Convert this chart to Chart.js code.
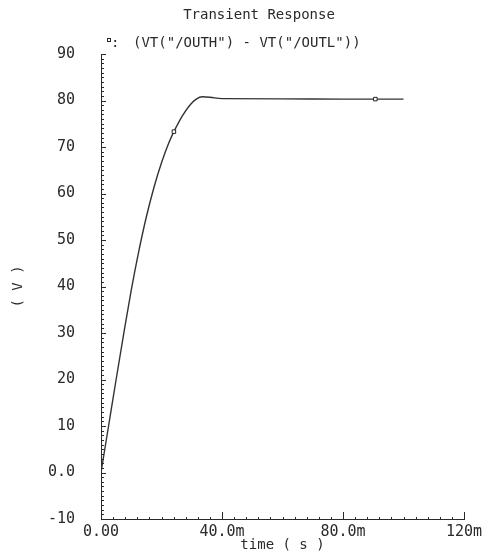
<!DOCTYPE html>
<html>
<head>
<meta charset="utf-8">
<title>Transient Response</title>
<script src="https://cdn.jsdelivr.net/npm/chart.js@4.4.1/dist/chart.umd.min.js"></script>
<style>
  html, body { margin: 0; padding: 0; background: #fff; }
  #wrap { width: 490px; height: 554px; }
</style>
</head>
<body>
<div id="wrap"><canvas id="chart" width="490" height="554"></canvas></div>
<script>
// time in ms, voltage in V
const timeMs = [0, 2.5, 5, 7.5, 10, 12.5, 15, 17.5, 20, 22.5, 24.1, 27, 29.5, 31.5, 33.5, 36, 40, 60, 80, 90.7, 100];
const vDiff  = [0, 10, 20, 29.8, 39.2, 47.6, 55, 61.3, 66.6, 71, 73.3, 76.8, 79.1, 80.3, 80.8, 80.7, 80.4, 80.35, 80.3, 80.3, 80.3];
const markerTimes = [24.1, 90.7];

const xTickLabels = ['0.00', '40.0m', '80.0m', '120m'];
const yTickLabels = ['-10', '0.0', '10', '20', '30', '40', '50', '60', '70', '80', '90'];

const seriesName = '(VT("/OUTH") - VT("/OUTL"))';
const titleText = 'Transient Response';

const ink = '#2a2a2a';
const monoFont = '"DejaVu Sans Mono", "Liberation Mono", monospace';

// inward tick marks, like the simulator's plot frame
const innerTicks = {
    id: 'innerTicks',
    afterDraw(chart) {
        const {ctx, scales: {x, y}} = chart;
        ctx.save();
        ctx.strokeStyle = ink;
        ctx.lineWidth = 1;
        ctx.beginPath();
        for (let v = -10; v <= 90; v += 1) {
            const py = Math.round(y.getPixelForValue(v)) + 0.5;
            const len = (v % 10 === 0) ? 5 : 3;
            ctx.moveTo(x.left, py);
            ctx.lineTo(x.left + len, py);
        }
        for (let t = 0; t <= 120; t += 4) {
            const px = Math.round(x.getPixelForValue(t)) + 0.5;
            const len = (t % 40 === 0) ? 7 : 2;
            ctx.moveTo(px, y.bottom);
            ctx.lineTo(px, y.bottom - len);
        }
        ctx.stroke();
        ctx.restore();
    }
};

// title and the series label above the plot
const header = {
    id: 'header',
    afterDraw(chart) {
        const {ctx, chartArea} = chart;
        ctx.save();
        ctx.fillStyle = ink;
        ctx.font = '14px ' + monoFont;
        ctx.textBaseline = 'middle';
        ctx.textAlign = 'center';
        ctx.fillText(titleText, 259, 15);

        ctx.textAlign = 'left';
        ctx.strokeStyle = ink;
        ctx.lineWidth = 1;
        ctx.strokeRect(chartArea.left + 6.5, 38.5, 3, 3);
        ctx.fillText(':', chartArea.left + 10, 43);
        ctx.fillText(seriesName, chartArea.left + 32, 43);
        ctx.restore();
    }
};

document.addEventListener('DOMContentLoaded', function () {
    const ctx = document.getElementById('chart').getContext('2d');

    const points = timeMs.map((t, i) => ({x: t, y: vDiff[i]}));
    const radii = timeMs.map(t => markerTimes.includes(t) ? 2.5 : 0);

    new Chart(ctx, {
        type: 'line',
        data: {
            datasets: [{
                label: seriesName,
                data: points,
                borderColor: '#333',
                borderWidth: 1.4,
                cubicInterpolationMode: 'monotone',
                pointStyle: 'rect',
                pointRadius: radii,
                pointBackgroundColor: '#fff',
                pointBorderColor: '#222',
                pointBorderWidth: 1,
                fill: false
            }]
        },
        options: {
            responsive: false,
            animation: false,
            events: [],
            layout: { padding: { top: 54, right: 26, left: 0, bottom: 0 } },
            plugins: {
                legend: { display: false },
                title: { display: false },
                tooltip: { enabled: false }
            },
            scales: {
                x: {
                    type: 'linear',
                    min: 0,
                    max: 120,
                    afterFit: (scale) => { scale.height = 33; },
                    grid: { display: false, drawTicks: false },
                    border: { display: true, color: ink, width: 1 },
                    ticks: {
                        stepSize: 40,
                        autoSkip: false,
                        maxRotation: 0,
                        padding: 4,
                        color: ink,
                        font: { family: monoFont, size: 15 },
                        callback: (value, i) => xTickLabels[i]
                    },
                    title: {
                        display: true,
                        text: 'time ( s )',
                        color: ink,
                        font: { family: monoFont, size: 14 },
                        padding: { top: 0, bottom: -2 }
                    }
                },
                y: {
                    type: 'linear',
                    min: -10,
                    max: 90,
                    afterFit: (scale) => { scale.width = 101; },
                    grid: { display: false, drawTicks: false },
                    border: { display: true, color: ink, width: 1 },
                    ticks: {
                        stepSize: 10,
                        autoSkip: false,
                        padding: 26,
                        color: ink,
                        font: { family: monoFont, size: 15 },
                        callback: (value, i) => yTickLabels[i]
                    },
                    title: {
                        display: true,
                        text: '( V )',
                        color: ink,
                        font: { family: monoFont, size: 14 },
                        padding: { top: 10, bottom: 0 }
                    }
                }
            }
        },
        plugins: [innerTicks, header]
    });
});
</script>
</body>
</html>
